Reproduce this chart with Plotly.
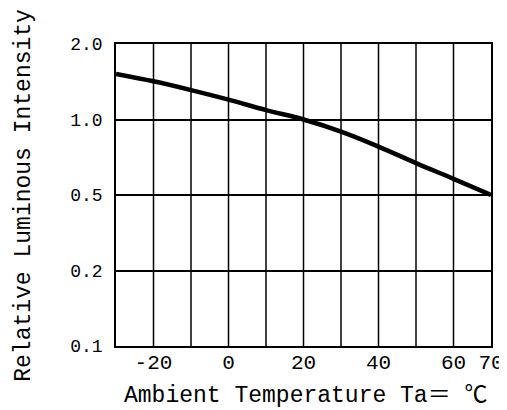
import numpy as np
import plotly.graph_objects as go

# Data
temperature = [-30, -20, -10, 0, 10, 20, 30, 40, 50, 60, 70]
intensity = [1.52, 1.42, 1.31, 1.20, 1.09, 1.00, 0.895, 0.78, 0.67, 0.58, 0.50]

y_tick_values = [0.1, 0.2, 0.5, 1.0, 2.0]
y_tick_labels = ["0.1", "0.2", "0.5", "1.0", "2.0"]
x_tick_values = [-20, 0, 20, 40, 60, 70]
x_tick_labels = ["-20", "0", "20", "40", "60", "70"]
x_title = "Ambient Temperature Ta＝ ℃"
y_title = "Relative Luminous Intensity"

# The chart's y axis places its ticks equally spaced; map values to that scale
tick_pos = np.arange(len(y_tick_values))
def ypos(v):
    return np.interp(np.log10(v), np.log10(y_tick_values), tick_pos)

font_family = "Liberation Mono, Noto Sans CJK SC"

fig = go.Figure()
fig.add_trace(go.Scatter(
    x=temperature, y=ypos(np.array(intensity)),
    mode="lines", line=dict(color="black", width=4.5, shape="spline", smoothing=1.0),
    showlegend=False, hoverinfo="skip",
))

fig.update_layout(
    width=499, height=402,
    margin=dict(l=108, r=16, t=36, b=64),
    paper_bgcolor="white", plot_bgcolor="white",
    font=dict(family=font_family, color="black"),
    xaxis=dict(
        range=[-30, 70], tickmode="array", tickvals=x_tick_values, ticktext=x_tick_labels,
        showgrid=False, zeroline=False, showline=True, linecolor="black", linewidth=1.5,
        mirror=True, ticks="", tickfont=dict(size=21, family=font_family),
        automargin=False, ticklabelstandoff=-4,
    ),
    yaxis=dict(
        range=[0, 4], tickmode="array", tickvals=list(tick_pos), ticktext=y_tick_labels,
        showgrid=True, gridcolor="black", gridwidth=1.5, zeroline=False,
        showline=True, linecolor="black", linewidth=1.5, mirror=True, ticks="",
        tickfont=dict(size=18, family=font_family), ticklabelstandoff=8,
        automargin=False,
    ),
    annotations=[
        dict(text=x_title, xref="paper", yref="paper", x=0.504, y=-0.166,
             xanchor="center", yanchor="middle", showarrow=False,
             font=dict(size=23, family=font_family)),
        dict(text=y_title, xref="paper", yref="paper", x=-0.246, y=0.5,
             xanchor="center", yanchor="middle", textangle=-90, showarrow=False,
             font=dict(size=23, family=font_family)),
    ],
)

# vertical grid lines every 10 degrees
for xv in range(-20, 70, 10):
    fig.add_vline(x=xv, line=dict(color="black", width=1.5), layer="below")

fig.write_html("out.html")
